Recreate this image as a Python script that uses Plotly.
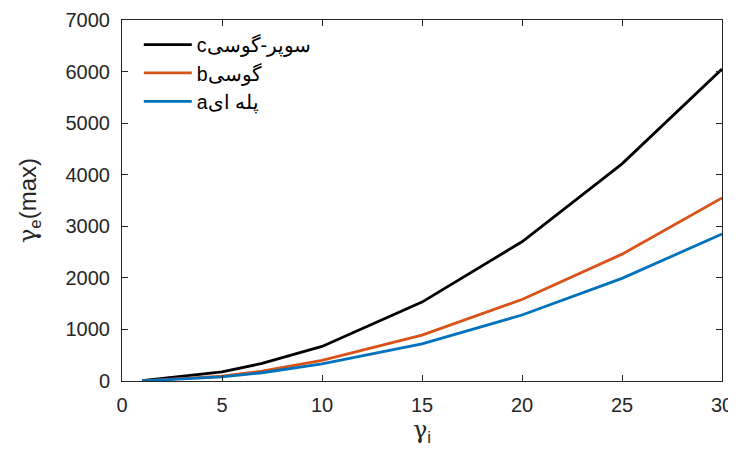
import plotly.graph_objects as go

x_vals = [1, 5, 7, 10, 15, 20, 25, 30]
super_gauss = [5, 175, 340, 670, 1530, 2700, 4210, 6050]
gauss = [3, 95, 190, 400, 890, 1580, 2460, 3550]
step = [2, 80, 160, 330, 720, 1280, 1990, 2850]

names = ["c" + "سوپر-گوسی", "b" + "گوسی", "a" + "پله ای"]
colors = ["#000000", "#D95319", "#0072BD"]
series = [super_gauss, gauss, step]

fig = go.Figure()
for n, c, s in zip(names, colors, series):
    fig.add_trace(go.Scatter(x=x_vals, y=s, mode="lines", name=n,
                             line=dict(color=c, width=2.8)))

font = "Liberation Sans, Arial, Helvetica, sans-serif"
gam = "<span style='font-family:\"DejaVu Serif\", \"Liberation Serif\", serif'>γ</span>"
axis_common = dict(showgrid=False, zeroline=False, showline=True, mirror="ticks",
                   linecolor="#262626", linewidth=1, ticks="inside", ticklen=6,
                   tickcolor="#262626", automargin=False,
                   tickfont=dict(size=20, color="#262626", family=font))

fig.update_layout(
    width=728, height=441,
    margin=dict(l=114, r=14, t=12, b=68, autoexpand=False),
    paper_bgcolor="white", plot_bgcolor="white",
    font=dict(family=font, color="#262626"),
    xaxis=dict(range=[0, 30], tickvals=[0, 5, 10, 15, 20, 25, 30], ticklabelstandoff=6,
               title=dict(text=gam + "<sub>i</sub>", font=dict(size=24), standoff=0), **axis_common),
    yaxis=dict(range=[0, 7000], tickvals=list(range(0, 7001, 1000)), ticklabelstandoff=7,
               title=dict(text=gam + "<sub>e</sub>(max)", font=dict(size=24), standoff=22), **axis_common),
    legend=dict(x=0.028, y=0.985, xanchor="left", yanchor="top", bgcolor="rgba(0,0,0,0)",
                itemwidth=48,
                font=dict(size=19.5, color="#000000", family=font), tracegroupgap=0),
    showlegend=True,
)

fig.write_html("out.html")
